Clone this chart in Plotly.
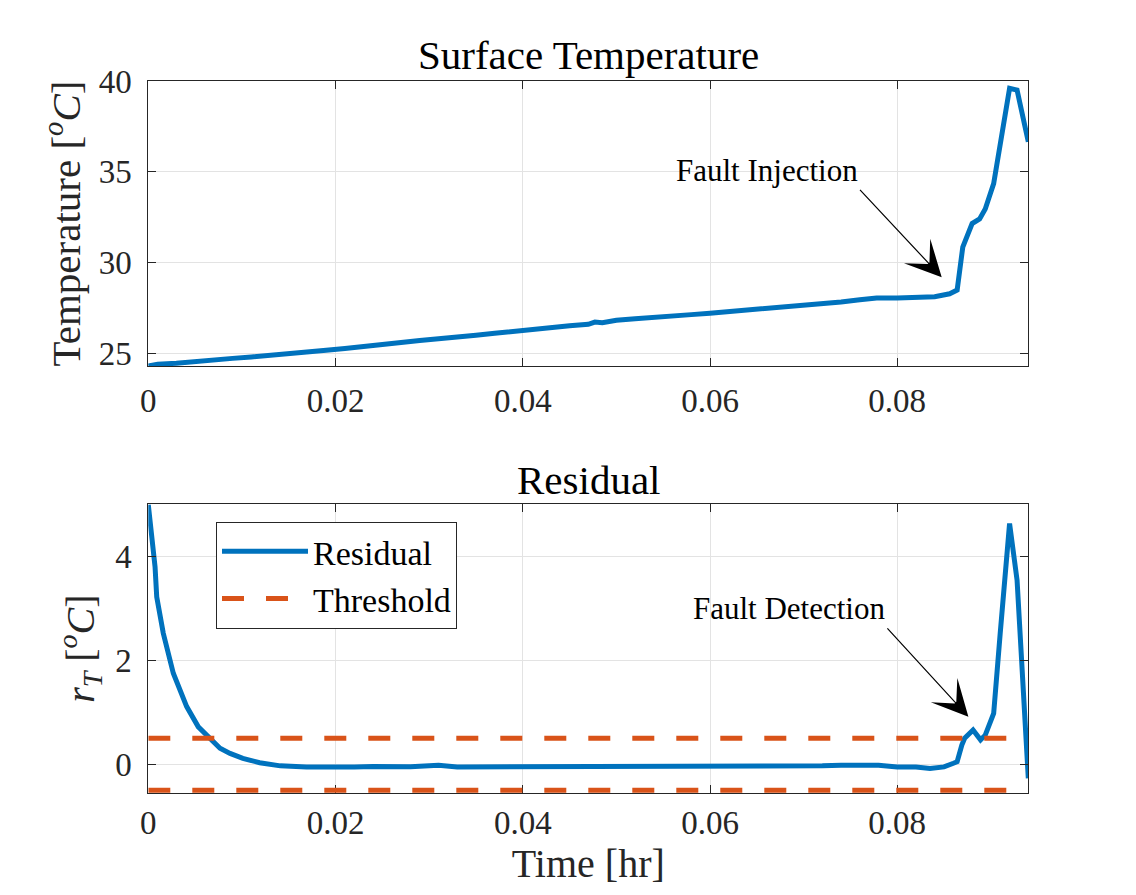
import plotly.graph_objects as go

# ---------------- data ----------------
time_temp = [0.0, 0.001, 0.003, 0.005, 0.007, 0.009, 0.011, 0.013, 0.015, 0.017,
             0.019, 0.021, 0.023, 0.025, 0.027, 0.029, 0.031, 0.033, 0.035, 0.037,
             0.039, 0.041, 0.043, 0.045, 0.047, 0.0477, 0.0485, 0.050, 0.052, 0.054,
             0.056, 0.058, 0.060, 0.062, 0.064, 0.066, 0.068, 0.070, 0.072, 0.074,
             0.076, 0.0778, 0.080, 0.082, 0.084, 0.0856, 0.0864, 0.0870, 0.0880, 0.0888,
             0.0894, 0.0903, 0.0910, 0.0920, 0.0928, 0.0940]
temperature = [24.30, 24.40, 24.45, 24.52, 24.62, 24.72, 24.80, 24.88, 24.97, 25.08,
               25.17, 25.27, 25.40, 25.50, 25.60, 25.70, 25.82, 25.90, 26.00, 26.10,
               26.22, 26.32, 26.42, 26.52, 26.60, 26.72, 26.68, 26.82, 26.90, 26.96,
               27.05, 27.13, 27.21, 27.30, 27.38, 27.46, 27.52, 27.60, 27.70, 27.83,
               27.95, 28.05, 28.05, 28.08, 28.12, 28.28, 28.48, 30.85, 32.15, 32.40,
               32.95, 34.35, 36.40, 39.60, 39.50, 36.65]

time_res = [0.0, 0.00072, 0.0009, 0.0016, 0.00267, 0.0041, 0.00534, 0.0066, 0.00766, 0.00873,
            0.0101, 0.0119, 0.0141, 0.0169, 0.019, 0.020, 0.022, 0.024, 0.026, 0.028,
            0.030, 0.031, 0.033, 0.035, 0.037, 0.039, 0.040, 0.042, 0.044, 0.046,
            0.047, 0.048, 0.050, 0.052, 0.054, 0.056, 0.058, 0.060, 0.062, 0.064,
            0.066, 0.068, 0.070, 0.072, 0.074, 0.076, 0.078, 0.080, 0.082, 0.0835,
            0.0850, 0.0860, 0.0864, 0.0869, 0.0872, 0.0881, 0.0889, 0.0894, 0.0903, 0.0910,
            0.0915, 0.0920, 0.0928, 0.0940]
residual = [4.99, 3.80, 3.22, 2.52, 1.75, 1.11, 0.72, 0.50, 0.31, 0.21,
            0.115, 0.03, -0.03, -0.05, -0.05, -0.065, -0.05, -0.04, -0.05, -0.045,
            -0.03, -0.02, -0.05, -0.05, -0.04, -0.04, -0.03, -0.03, -0.05, -0.03,
            -0.05, -0.03, -0.04, -0.05, -0.04, -0.04, -0.05, -0.04, -0.04, -0.05,
            -0.04, -0.05, -0.04, -0.03, -0.02, -0.02, -0.02, -0.05, -0.05, -0.08,
            -0.05, 0.02, 0.05, 0.37, 0.50, 0.66, 0.47, 0.56, 0.98, 2.52,
            3.54, 4.63, 3.54, -0.27]

threshold_level = 0.5
x_ticks = [0, 0.02, 0.04, 0.06, 0.08]
x_ticktext = ["0", "0.02", "0.04", "0.06", "0.08"]
temp_ticks = [25, 30, 35, 40]
res_ticks = [0, 2, 4]

# ---------------- styling ----------------
FONT = "Liberation Serif"
BLUE = "#0072BD"
ORANGE = "#D95319"
AXC = "#262626"
GRID = "#e3e3e3"
W, H = 1136, 895

fig = go.Figure()

fig.add_trace(go.Scatter(x=time_temp, y=temperature, mode="lines",
                         line=dict(color=BLUE, width=5), showlegend=False,
                         xaxis="x", yaxis="y"))

fig.add_trace(go.Scatter(x=time_res, y=residual, mode="lines", name="Residual",
                         line=dict(color=BLUE, width=5),
                         xaxis="x2", yaxis="y2"))
fig.add_trace(go.Scatter(x=[0, time_res[-1]], y=[threshold_level, threshold_level],
                         mode="lines", name="Threshold",
                         line=dict(color=ORANGE, width=5, dash="22px,22px"),
                         xaxis="x2", yaxis="y2"))
fig.add_trace(go.Scatter(x=[0, time_res[-1]], y=[-threshold_level, -threshold_level],
                         mode="lines", name="Threshold", showlegend=False,
                         line=dict(color=ORANGE, width=5, dash="22px,22px"),
                         xaxis="x2", yaxis="y2"))

xdom = [148.3 / W, 1028.3 / W]
common_axis = dict(showline=True, linecolor=AXC, linewidth=1, mirror="ticks",
                   ticks="inside", ticklen=8, tickcolor=AXC, tickwidth=1,
                   showgrid=True, gridcolor=GRID, gridwidth=1, zeroline=False,
                   tickfont=dict(family=FONT, size=33, color=AXC), automargin=False)

fig.update_layout(
    width=W, height=H,
    margin=dict(l=0, r=0, t=0, b=0),
    paper_bgcolor="white", plot_bgcolor="white",
    template="none",
    font=dict(family=FONT, color=AXC),
    xaxis=dict(domain=xdom, range=[0, 0.094], tickvals=x_ticks, ticktext=x_ticktext,
               anchor="y", ticklabelstandoff=5, **common_axis),
    yaxis=dict(domain=[1 - 366 / H, 1 - 81 / H], range=[24.3, 40], tickvals=temp_ticks,
               anchor="x", ticklabelstandoff=9,
               title=dict(text="Temperature [<sup><i>o</i></sup><i>C</i>]",
                          font=dict(family=FONT, size=41, color=AXC), standoff=5),
               **common_axis),
    xaxis2=dict(domain=xdom, range=[0, 0.094], tickvals=x_ticks, ticktext=x_ticktext,
                anchor="y2", ticklabelstandoff=0, layer="below traces",
                title=dict(text="Time [hr]", font=dict(family=FONT, size=40, color=AXC),
                           standoff=6),
                **common_axis),
    yaxis2=dict(domain=[1 - 792.9 / H, 1 - 504.3 / H], range=[-0.55, 5.0], tickvals=res_ticks,
                anchor="x2", ticklabelstandoff=9,
                title=dict(text="<i>r</i><sub><i>T</i></sub> [<sup><i>o</i></sup><i>C</i>]",
                           font=dict(family=FONT, size=40, color=AXC), standoff=8),
                **common_axis),
    legend=dict(x=216 / W, y=1 - 521.7 / H, xanchor="left", yanchor="top",
                bordercolor=AXC, borderwidth=1, bgcolor="white", itemwidth=86,
                font=dict(family=FONT, size=34, color="black")),
    annotations=[
        dict(text="Surface Temperature", xref="paper", yref="paper",
             x=(148.3 + 1028.3) / 2 / W, y=1 - 55 / H, showarrow=False,
             font=dict(family=FONT, size=41, color="black"), xanchor="center", yanchor="middle"),
        dict(text="Residual", xref="paper", yref="paper",
             x=(148.3 + 1028.3) / 2 / W, y=1 - 480 / H, showarrow=False,
             font=dict(family=FONT, size=41, color="black"), xanchor="center", yanchor="middle"),
        dict(text="Fault Injection", xref="x", yref="y", x=0.08475, y=29.19,
             ax=-81.7, ay=-87.3, xanchor="right", yanchor="bottom",
             showarrow=True, arrowhead=3, arrowsize=5, arrowwidth=1.2,
             arrowcolor="black", standoff=0,
             font=dict(family=FONT, size=31, color="black")),
        dict(text="Fault Detection", xref="x2", yref="y2", x=0.0876, y=0.915,
             ax=-81, ay=-88.4, xanchor="right", yanchor="bottom",
             showarrow=True, arrowhead=3, arrowsize=5, arrowwidth=1.2,
             arrowcolor="black", standoff=0,
             font=dict(family=FONT, size=31, color="black")),
    ],
)

fig.write_html("out.html", config={"displayModeBar": False},
               post_script="document.body.style.margin='0';")
